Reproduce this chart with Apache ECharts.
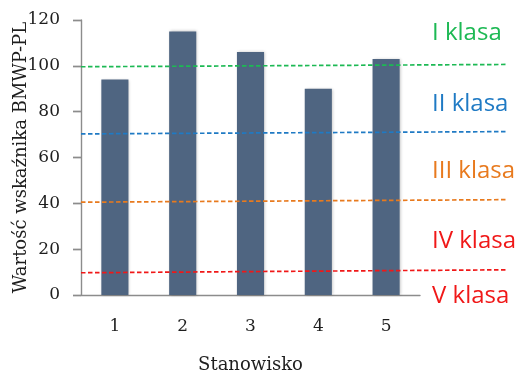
<!DOCTYPE html>
<html>
<head>
<meta charset="utf-8">
<script src="https://cdn.jsdelivr.net/npm/echarts@6/dist/echarts.min.js"></script>
<style>html,body{margin:0;padding:0;background:#fff;}#c{width:522px;height:370px;}</style>
</head>
<body>
<div id="c"></div>
<script>
const categories = ['1', '2', '3', '4', '5'];
const values = [94, 115, 106, 90, 103];
const yTicks = [0, 20, 40, 60, 80, 100, 120];
// class boundary lines: [value at left end, value at right end]
const classLines = [
  { name: 'I/II', ends: [99.6, 100.6], color: '#1db954' },
  { name: 'II/III', ends: [70.3, 71.3], color: '#1f7ac4' },
  { name: 'III/IV', ends: [40.5, 41.6], color: '#e87a1e' },
  { name: 'IV/V', ends: [9.7, 11.0], color: '#f01818' }
];
const classLabels = ['I klasa', 'II klasa', 'III klasa', 'IV klasa', 'V klasa'];
const classLabelColors = ['#1db954', '#1f7ac4', '#e87a1e', '#f01818', '#f01818'];
const classLabelTops = [32, 103, 170, 240, 295];

const chart = echarts.init(document.getElementById('c'), null, { renderer: 'canvas' });
const serif = 'DejaVu Serif';
const axisGray = '#8c8c8c';
const textColor = '#1e1e1e';

const series = [{
  type: 'bar',
  xAxisIndex: 0, yAxisIndex: 0,
  data: values,
  barWidth: '40%',
  itemStyle: { color: '#4f6581', shadowBlur: 3, shadowColor: 'rgba(0,0,0,0.25)', shadowOffsetX: 1, shadowOffsetY: 0 },
  z: 2
}];
classLines.forEach(l => {
  series.push({
    type: 'line',
    name: l.name,
    xAxisIndex: 1, yAxisIndex: 1,
    data: [[0, l.ends[0]], [1, l.ends[1]]],
    symbol: 'none',
    lineStyle: { color: l.color, width: 1.7, type: [4.5, 2.5] },
    z: 5,
    silent: true
  });
});

const graphics = classLabels.map((t, i) => ({
  type: 'text',
  left: 432,
  top: classLabelTops[i] - 11,
  style: { text: t, fill: classLabelColors[i], font: '24px "Open Sans"' }
}));

chart.setOption({
  animation: false,
  grid: [
    { left: 81, right: 102, top: 20, bottom: 75, containLabel: false, outerBoundsMode: 'none' },
    { left: 81, right: 14, top: 20, bottom: 75, containLabel: false, outerBoundsMode: 'none' }
  ],
  xAxis: [{
    gridIndex: 0,
    type: 'category',
    data: categories,
    name: 'Stanowisko',
    nameLocation: 'middle',
    nameGap: 61,
    nameMoveOverlap: false,
    nameTextStyle: { fontFamily: serif, fontSize: 18, color: textColor },
    axisLine: { lineStyle: { color: axisGray, width: 1.4 } },
    axisTick: { length: 6, lineStyle: { color: axisGray, width: 1.4 } },
    axisLabel: { fontFamily: serif, fontSize: 17, color: textColor, margin: 23 }
  }, {
    gridIndex: 1, type: 'value', min: 0, max: 1, show: false
  }],
  yAxis: [{
    gridIndex: 0,
    type: 'value',
    position: 'left',
    min: yTicks[0], max: yTicks[yTicks.length - 1], interval: 20,
    name: 'Wartość wskaźnika BMWP-PL',
    nameLocation: 'middle',
    nameGap: 51,
    nameMoveOverlap: false,
    nameTextStyle: { fontFamily: serif, fontSize: 18, color: textColor },
    axisLine: { show: true, lineStyle: { color: axisGray, width: 1.4 } },
    axisTick: { show: true, inside: false, length: 8, lineStyle: { color: axisGray, width: 1.4 } },
    splitLine: { show: false },
    axisLabel: { fontFamily: serif, fontSize: 17, color: textColor, margin: 21 }
  }, {
    gridIndex: 1, type: 'value', position: 'left', min: 0, max: 120, interval: 20,
    show: true,
    axisLine: { show: false },
    axisLabel: { show: false },
    splitLine: { show: false },
    axisTick: { show: true, inside: false, length: 8, lineStyle: { color: axisGray, width: 1.4 } }
  }],
  series: series,
  graphic: graphics
});
</script>
</body>
</html>
